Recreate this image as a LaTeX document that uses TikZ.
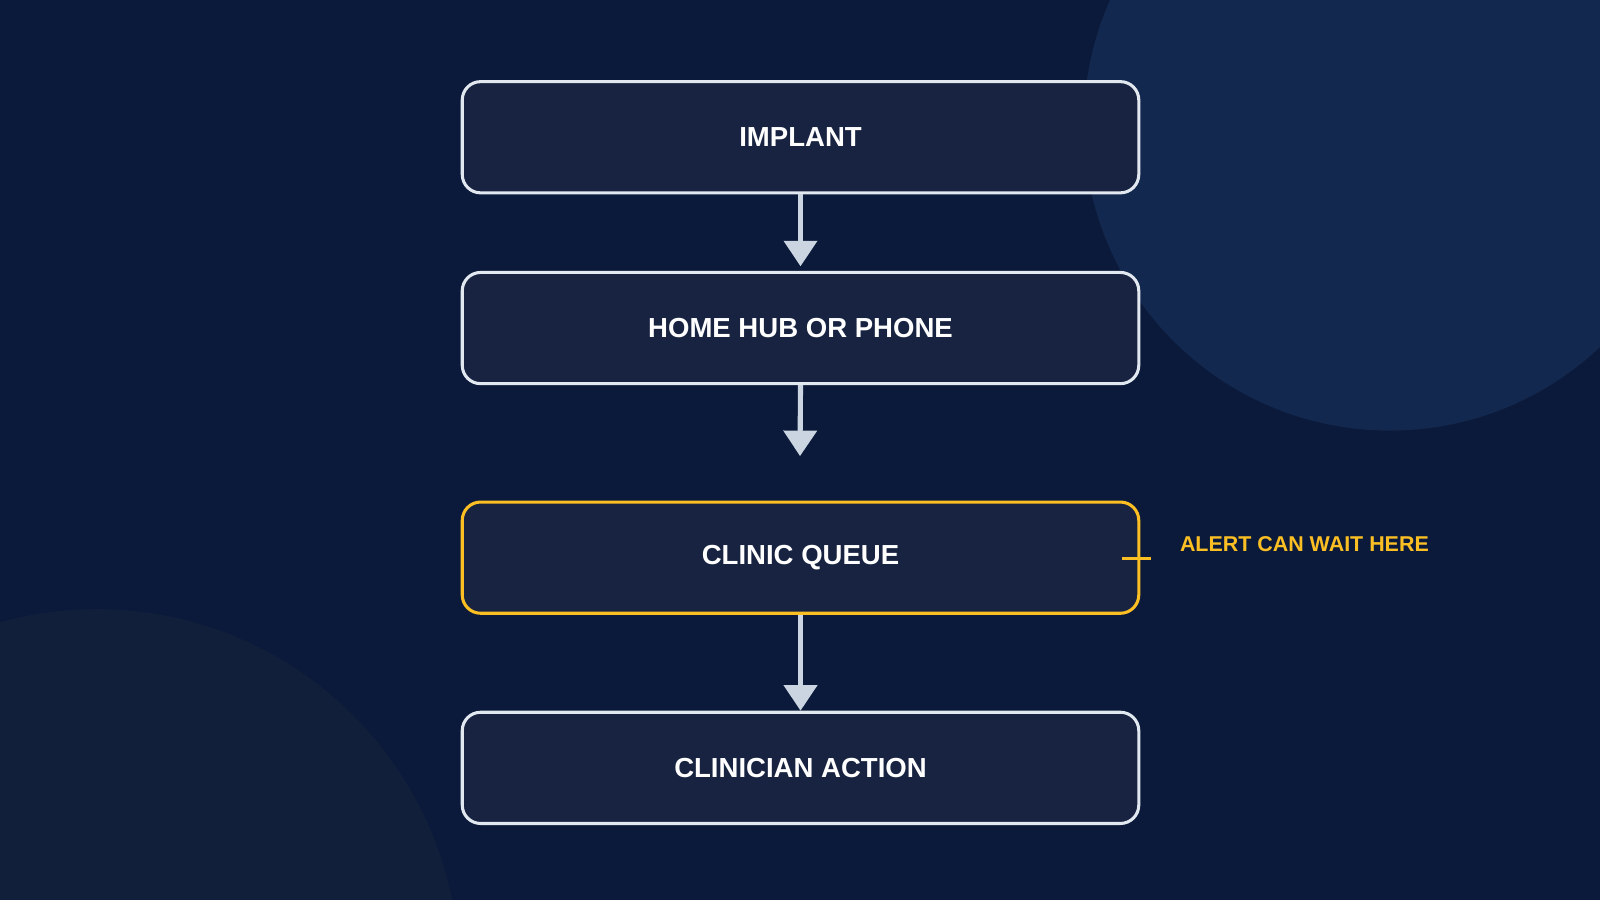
\documentclass[tikz,border=0pt]{standalone}
\usepackage{fontspec}
\setmainfont{Liberation Sans}
\begin{document}
\begin{tikzpicture}[x=0.5pt,y=-0.5pt,
  box/.style={draw=boxline,line width=1.5pt,fill=boxfill,rounded corners=9pt,minimum width=331.5pt,minimum height=54.5pt,inner sep=0pt,text=white,font=\bfseries\fontsize{13.5}{16}\selectfont},
  flow/.style={draw=arrowc,line width=2.5pt,-{Triangle[width=16pt,length=12.5pt]}}]
\definecolor{bg}{HTML}{0B1A3A}
\definecolor{boxfill}{HTML}{172340}
\definecolor{boxline}{HTML}{E2E8F0}
\definecolor{arrowc}{HTML}{CBD5E1}
\definecolor{alertc}{HTML}{FBBF24}
\definecolor{circA}{HTML}{13284F}
\definecolor{circB}{HTML}{111F3A}
\usetikzlibrary{arrows.meta}
\fill[bg] (0,0) rectangle (1568,882);
\useasboundingbox (0,0) rectangle (1568,882);
\begin{scope}
\clip (0,0) rectangle (1568,882);
\fill[circA] (1362,122) circle[radius=300];
\fill[circB] (95,952) circle[radius=355];
\end{scope}
\node[box] (implant) at (784.5,134.5) {IMPLANT};
\node[box] (hub) at (784.5,321.5) {HOME HUB OR PHONE};
\node[box,draw=alertc] (queue) at (784.5,546.5) {CLINIC QUEUE};
\node[box] (action) at (784.5,752.5) {CLINICIAN ACTION};
\coordinate (a2) at (784,447);
\draw[flow] (implant.south) -- (implant.south |- 0,261);
\draw[flow] (hub.south) -- (a2);
\draw[flow] (queue.south) -- (action.north);
\coordinate (t1) at (1100,547);
\coordinate (t2) at (1128,547);
\draw[alertc,line width=1.5pt] (t1) -- (t2);
\node[anchor=west,text=alertc,font=\bfseries\fontsize{10.5}{12}\selectfont,inner sep=0pt] (alert) at (1156,533) {ALERT CAN WAIT HERE};
\end{tikzpicture}
\end{document}
